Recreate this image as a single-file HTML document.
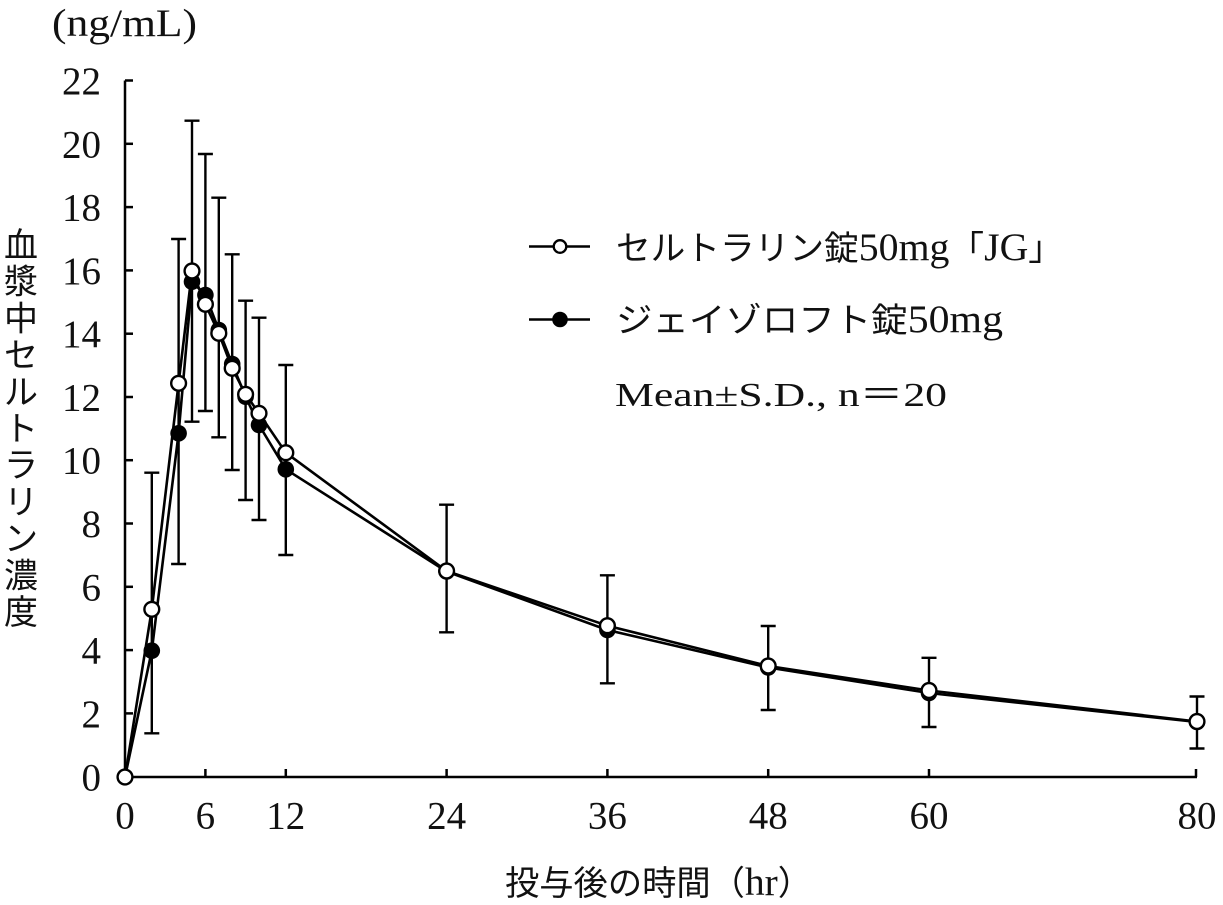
<!DOCTYPE html>
<html>
<head>
<meta charset="utf-8">
<style>
  html, body { margin: 0; padding: 0; background: #fff; }
  svg { display: block; }
  .num { font-family: "Liberation Serif", "Noto Sans CJK JP", serif; font-size: 39px; fill: #111; }
  .jp { font-family: "Liberation Serif", "Noto Sans CJK JP", serif; font-size: 34px; fill: #111; }
  .lat { font-size: 39px; }
  .ax { stroke: #000; stroke-width: 2.5; fill: none; }
  .eb { stroke: #000; stroke-width: 2.4; fill: none; }
  .ln { stroke: #000; stroke-width: 2.6; fill: none; stroke-linejoin: round; }
</style>
</head>
<body>
<svg width="1223" height="905" viewBox="0 0 1223 905" xmlns="http://www.w3.org/2000/svg">
  <rect width="1223" height="905" fill="#fff"/>

  <!-- unit label -->
  <text class="num" x="52" y="36" font-size="37" textLength="145" lengthAdjust="spacingAndGlyphs">(ng/mL)</text>

  <!-- axes -->
  <path class="ax" d="M125,80.5 V777 H1197"/>
  <!-- y ticks -->
  <g class="ax">
    <path d="M125,80.5 h8"/>
    <path d="M125,143.8 h8"/>
    <path d="M125,207.1 h8"/>
    <path d="M125,270.4 h8"/>
    <path d="M125,333.7 h8"/>
    <path d="M125,397 h8"/>
    <path d="M125,460.2 h8"/>
    <path d="M125,523.5 h8"/>
    <path d="M125,586.8 h8"/>
    <path d="M125,650.1 h8"/>
    <path d="M125,713.4 h8"/>
  </g>
  <!-- x ticks -->
  <g class="ax">
    <path d="M205.4,777 v-8"/>
    <path d="M285.8,777 v-8"/>
    <path d="M446.6,777 v-8"/>
    <path d="M607.4,777 v-8"/>
    <path d="M768.2,777 v-8"/>
    <path d="M929,777 v-8"/>
    <path d="M1196,777 v-8"/>
  </g>

  <!-- y tick labels -->
  <g class="num" text-anchor="end">
    <text x="101" y="94">22</text>
    <text x="101" y="157.3">20</text>
    <text x="101" y="220.6">18</text>
    <text x="101" y="283.9">16</text>
    <text x="101" y="347.2">14</text>
    <text x="101" y="410.5">12</text>
    <text x="101" y="473.7">10</text>
    <text x="101" y="537">8</text>
    <text x="101" y="600.3">6</text>
    <text x="101" y="663.6">4</text>
    <text x="101" y="726.9">2</text>
    <text x="101" y="790.5">0</text>
  </g>

  <!-- x tick labels -->
  <g class="num" text-anchor="middle">
    <text x="125" y="828.5">0</text>
    <text x="205.4" y="828.5">6</text>
    <text x="285.8" y="828.5">12</text>
    <text x="446.6" y="828.5">24</text>
    <text x="607.4" y="828.5">36</text>
    <text x="768.2" y="828.5">48</text>
    <text x="929" y="828.5">60</text>
    <text x="1197" y="828.5">80</text>
  </g>

  <!-- x axis title -->
  <text class="jp" x="505" y="895" textLength="307" lengthAdjust="spacingAndGlyphs">投与後の時間（<tspan class="lat">hr</tspan>）</text>

  <!-- y axis title (vertical) -->
  <g class="jp" text-anchor="middle" font-size="33">
    <text x="21" y="257">血</text>
    <text x="21" y="293.7">漿</text>
    <text x="21" y="330.4">中</text>
    <text x="21" y="367.1">セ</text>
    <text x="21" y="403.8">ル</text>
    <text x="21" y="440.5">ト</text>
    <text x="21" y="477.2">ラ</text>
    <text x="21" y="513.9">リ</text>
    <text x="21" y="550.6">ン</text>
    <text x="21" y="587.3">濃</text>
    <text x="21" y="624">度</text>
  </g>

  <!-- error bars -->
  <g class="eb">
    <path d="M151.8,472.7 V733.3 M144.3,472.7 h15 M144.3,733.3 h15"/>
    <path d="M178.6,239 V564 M171.1,239 h15 M171.1,564 h15"/>
    <path d="M192,120.7 V421.7 M184.5,120.7 h15 M184.5,421.7 h15"/>
    <path d="M205.4,154 V411 M197.9,154 h15 M197.9,411 h15"/>
    <path d="M218.8,197.7 V437.3 M211.3,197.7 h15 M211.3,437.3 h15"/>
    <path d="M232.2,254.3 V470 M224.7,254.3 h15 M224.7,470 h15"/>
    <path d="M245.6,300.7 V500 M238.1,300.7 h15 M238.1,500 h15"/>
    <path d="M259,317.7 V520 M251.5,317.7 h15 M251.5,520 h15"/>
    <path d="M285.8,365 V555 M278.3,365 h15 M278.3,555 h15"/>
    <path d="M446.6,504.7 V632.3 M439.1,504.7 h15 M439.1,632.3 h15"/>
    <path d="M607.4,575.3 V683.3 M599.9,575.3 h15 M599.9,683.3 h15"/>
    <path d="M768.2,626 V710 M760.7,626 h15 M760.7,710 h15"/>
    <path d="M929,657.8 V727 M921.5,657.8 h15 M921.5,727 h15"/>
    <path d="M1197,696.5 V748.5 M1189.5,696.5 h15 M1189.5,748.5 h15"/>
  </g>

  <!-- series lines -->
  <polyline class="ln" points="125,777 151.8,650.7 178.6,433.3 192,281.7 205.4,295 218.8,330 232.2,364 245.6,396.7 259,425 285.8,469.3 446.6,571.5 607.4,630 768.2,667.5 929,693 1197,722"/>
  <polyline class="ln" points="125,777 151.8,609.3 178.6,383.3 192,271 205.4,304.3 218.8,333.3 232.2,368.3 245.6,394.3 259,413.3 285.8,452.7 446.6,571 607.4,625.7 768.2,666 929,690.5 1197,721.5"/>

  <!-- filled markers -->
  <g fill="#000">
    <circle cx="151.8" cy="650.7" r="8.3"/>
    <circle cx="178.6" cy="433.3" r="8.3"/>
    <circle cx="192" cy="281.7" r="8.3"/>
    <circle cx="205.4" cy="295" r="8.3"/>
    <circle cx="218.8" cy="330" r="8.3"/>
    <circle cx="232.2" cy="364" r="8.3"/>
    <circle cx="245.6" cy="396.7" r="8.3"/>
    <circle cx="259" cy="425" r="8.3"/>
    <circle cx="285.8" cy="469.3" r="8.3"/>
    <circle cx="446.6" cy="571.5" r="8.3"/>
    <circle cx="607.4" cy="630" r="8.3"/>
    <circle cx="768.2" cy="667.5" r="8.3"/>
    <circle cx="929" cy="693" r="8.3"/>
    <circle cx="1197" cy="722" r="8.3"/>
  </g>

  <!-- open markers -->
  <g fill="#fff" stroke="#000" stroke-width="2.4">
    <circle cx="125" cy="777" r="7.4"/>
    <circle cx="151.8" cy="609.3" r="7.4"/>
    <circle cx="178.6" cy="383.3" r="7.4"/>
    <circle cx="192" cy="271" r="7.4"/>
    <circle cx="205.4" cy="304.3" r="7.4"/>
    <circle cx="218.8" cy="333.3" r="7.4"/>
    <circle cx="232.2" cy="368.3" r="7.4"/>
    <circle cx="245.6" cy="394.3" r="7.4"/>
    <circle cx="259" cy="413.3" r="7.4"/>
    <circle cx="285.8" cy="452.7" r="7.4"/>
    <circle cx="446.6" cy="571" r="7.4"/>
    <circle cx="607.4" cy="625.7" r="7.4"/>
    <circle cx="768.2" cy="666" r="7.4"/>
    <circle cx="929" cy="690.5" r="7.4"/>
    <circle cx="1197" cy="721.5" r="7.4"/>
  </g>

  <!-- legend -->
  <path class="ln" d="M529,246.5 H590"/>
  <circle cx="560" cy="246.5" r="6.3" fill="#fff" stroke="#000" stroke-width="2.3"/>
  <path class="ln" d="M529,319.5 H590"/>
  <circle cx="560" cy="319.5" r="7.8" fill="#000"/>

  <text class="jp" x="616" y="260" textLength="447" lengthAdjust="spacingAndGlyphs">セルトラリン錠<tspan class="lat">50mg</tspan>「<tspan class="lat">JG</tspan>」</text>
  <text class="jp" x="616" y="332" textLength="387" lengthAdjust="spacingAndGlyphs">ジェイゾロフト錠<tspan class="lat">50mg</tspan></text>
  <text class="jp" x="615" y="406" font-size="40" textLength="332" lengthAdjust="spacingAndGlyphs">Mean±S.D., n＝20</text>
</svg>
</body>
</html>
